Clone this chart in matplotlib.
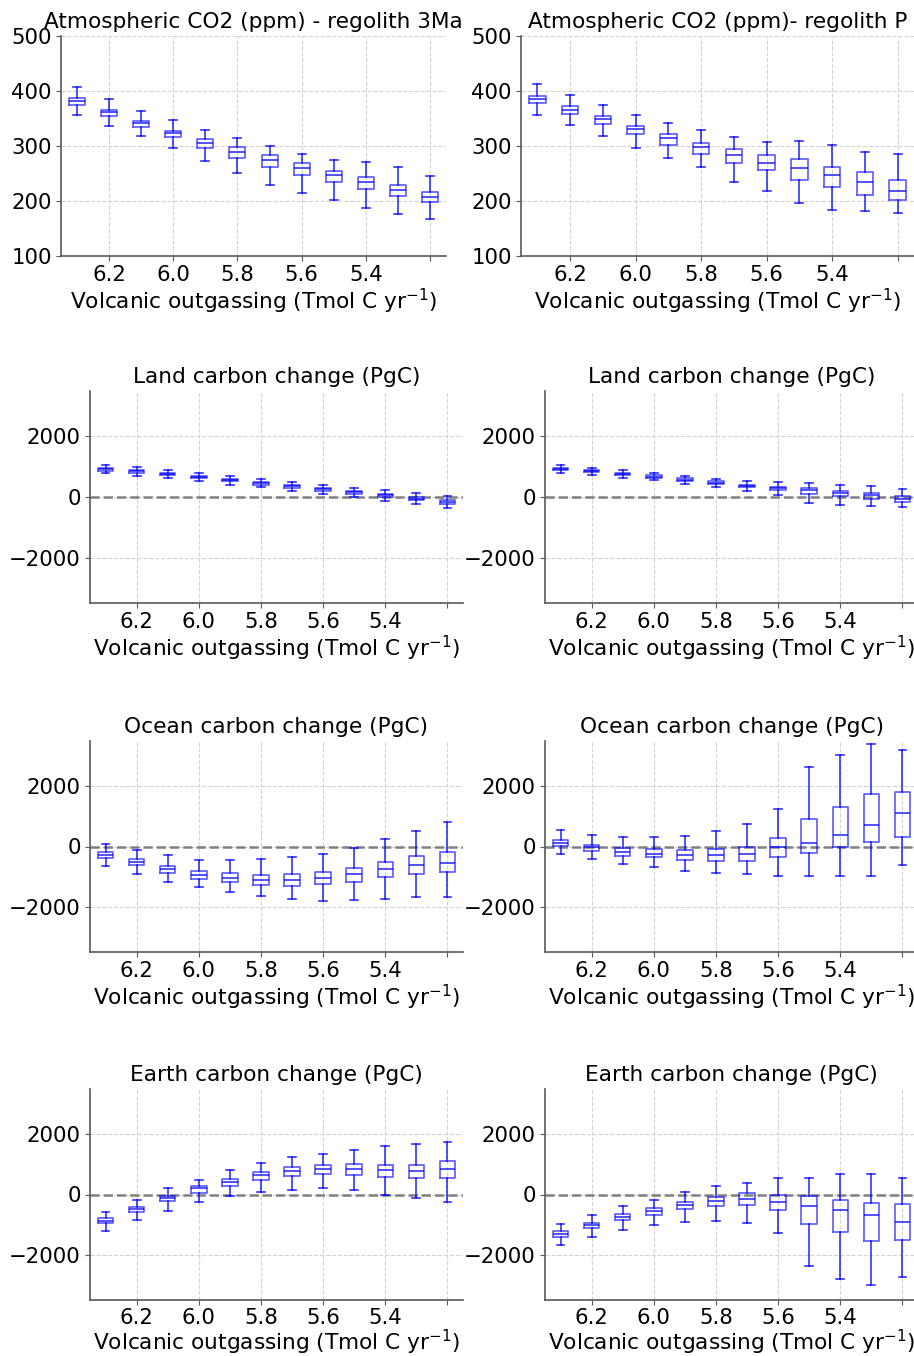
#!/usr/bin/env python3

import matplotlib
matplotlib.use("Agg")
import matplotlib.pyplot as plt

# Outgassing steps (boxes 1..12), only every other one gets a tick label
tick_pos = [2, 4, 6, 8, 10, 12]
tick_labels = ["6.2", "6.0", "5.8", "5.6", "5.4", ""]
xlabel = "Volcanic outgassing (Tmol C yr$^{-1}$)"

# Atmospheric CO2 - regolith 3Ma (ppm)
co2_3ma_hi = [408, 385, 363, 348, 329, 315, 300, 286, 275, 271, 262, 245]
co2_3ma_q3 = [387, 366, 346, 328, 313, 298, 283, 269, 254, 243, 230, 216]
co2_3ma_med = [381, 361, 341, 323, 306, 290, 275, 260, 247, 234, 220, 207]
co2_3ma_q1 = [374, 355, 335, 316, 297, 279, 262, 248, 235, 221, 209, 198]
co2_3ma_lo = [356, 337, 318, 297, 272, 251, 230, 215, 202, 187, 177, 168]

# Atmospheric CO2 - regolith P (ppm)
co2_p_hi = [412, 392, 374, 356, 342, 329, 317, 307, 309, 301, 290, 285]
co2_p_q3 = [391, 372, 354, 337, 321, 306, 294, 283, 276, 262, 253, 238]
co2_p_med = [385, 366, 349, 331, 315, 298, 283, 269, 260, 248, 234, 219]
co2_p_q1 = [378, 358, 340, 321, 301, 285, 270, 257, 239, 225, 211, 202]
co2_p_lo = [356, 339, 319, 297, 279, 262, 234, 218, 196, 184, 182, 179]

# Land carbon change - regolith 3Ma (PgC)
land_3ma_hi = [1069, 981, 882, 782, 683, 584, 496, 386, 298, 231, 121, 33]
land_3ma_q3 = [970, 904, 805, 705, 606, 507, 408, 298, 198, 110, 0, -99]
land_3ma_med = [926, 860, 760, 661, 562, 452, 353, 253, 154, 55, -55, -165]
land_3ma_q1 = [871, 805, 716, 617, 518, 408, 309, 198, 99, 11, -110, -220]
land_3ma_lo = [793, 705, 639, 529, 408, 320, 209, 88, 0, -132, -242, -364]

# Land carbon change - regolith P (PgC)
land_p_hi = [1055, 956, 890, 791, 692, 593, 538, 495, 451, 396, 352, 264]
land_p_q3 = [967, 890, 802, 714, 615, 516, 407, 341, 297, 209, 143, 33]
land_p_med = [923, 857, 769, 670, 571, 473, 374, 286, 231, 143, 77, -66]
land_p_q1 = [879, 813, 736, 626, 527, 429, 341, 220, 99, 22, -77, -176]
land_p_lo = [802, 725, 637, 560, 440, 319, 209, 66, -209, -253, -308, -330]

# Ocean carbon change - regolith 3Ma (PgC)
ocean_3ma_hi = [88, -132, -286, -462, -440, -429, -341, -264, -66, 253, 528, 824]
ocean_3ma_q3 = [-198, -429, -637, -824, -879, -934, -923, -846, -703, -517, -330, -198]
ocean_3ma_med = [-275, -517, -758, -945, -1044, -1121, -1121, -1055, -923, -758, -626, -560]
ocean_3ma_q1 = [-374, -626, -890, -1066, -1187, -1286, -1308, -1242, -1165, -1022, -901, -857]
ocean_3ma_lo = [-637, -912, -1165, -1352, -1517, -1649, -1747, -1802, -1780, -1747, -1681, -1659]

# Ocean carbon change - regolith P (PgC)
ocean_p_hi = [549, 396, 319, 319, 363, 528, 736, 1242, 2638, 3033, 3407, 3198]
ocean_p_q3 = [231, 55, -66, -99, -132, -99, 0, 286, 912, 1319, 1747, 1813]
ocean_p_med = [132, -33, -187, -242, -297, -286, -264, -11, 132, 396, 703, 1099]
ocean_p_q1 = [33, -154, -319, -363, -451, -495, -495, -352, -231, 0, 165, 319]
ocean_p_lo = [-264, -418, -571, -670, -824, -868, -923, -989, -989, -989, -989, -626]

# Earth carbon change - regolith 3Ma (PgC)
earth_3ma_hi = [-571, -176, 220, 495, 824, 1044, 1231, 1352, 1473, 1594, 1660, 1747]
earth_3ma_q3 = [-791, -418, -44, 275, 527, 747, 901, 967, 1011, 989, 989, 1099]
earth_3ma_med = [-868, -495, -121, 209, 418, 648, 769, 846, 857, 813, 791, 857]
earth_3ma_q1 = [-956, -593, -231, 66, 297, 495, 604, 670, 659, 593, 560, 560]
earth_3ma_lo = [-1209, -857, -538, -242, -66, 99, 165, 231, 143, -22, -121, -264]

# Earth carbon change - regolith P (PgC)
earth_p_hi = [-989, -670, -396, -176, 99, 286, 396, 539, 560, 670, 692, 549]
earth_p_q3 = [-1220, -934, -648, -462, -253, -77, 44, 0, -55, -176, -275, -308]
earth_p_med = [-1297, -1022, -736, -539, -352, -231, -143, -253, -374, -506, -681, -901]
earth_p_q1 = [-1407, -1110, -857, -681, -495, -396, -352, -517, -978, -1242, -1550, -1517]
earth_p_lo = [-1681, -1396, -1187, -1011, -901, -879, -945, -1286, -2385, -2791, -3000, -2736]

W, H = 914, 1356


# Turn the five summary lists into stats dicts for ax.bxp
def box_stats(lo, q1, med, q3, hi):
    stats = []
    for i in range(len(med)):
        stats.append({"whislo": lo[i], "q1": q1[i], "med": med[i],
                      "q3": q3[i], "whishi": hi[i]})
    return stats


# Axes box from pixel edges of the reference
def px_axes(fig, left, top, right, bottom):
    return fig.add_axes([left / W, 1 - bottom / H, (right - left) / W, (bottom - top) / H])


def draw_panel(ax, stats, title, ylim, yticks, zero_line, labelpad=1, tickpad=3):
    ax.bxp(stats, showfliers=False,
           boxprops=dict(color="blue", alpha=0.65, lw=1.2),
           whiskerprops=dict(color="blue", alpha=0.8, lw=1.2),
           capprops=dict(color="blue", alpha=0.8, lw=1.2),
           medianprops=dict(color="blue", alpha=0.8, lw=1.2))
    if zero_line:
        # above the grid, below the boxes
        ax.axhline(0, color="gray", ls="--", lw=1.8, zorder=1.5)
    ax.set_xlim(0.5, 12.5)
    ax.set_ylim(*ylim)
    ax.set_yticks(yticks)
    ax.set_xticks(tick_pos)
    ax.set_xticklabels(tick_labels)
    ax.grid(True, ls="--", color="lightgray", lw=0.8)
    ax.set_axisbelow(True)
    ax.spines["top"].set_visible(False)
    ax.spines["right"].set_visible(False)
    for s in ("left", "bottom"):
        ax.spines[s].set_color("0.35")
        ax.spines[s].set_linewidth(1.2)
    ax.tick_params(labelsize=15.3, color="0.35", pad=3)
    ax.tick_params(axis="x", pad=tickpad)
    ax.set_title(title, fontsize=15.6)
    ax.set_xlabel(xlabel, fontsize=15.6, labelpad=labelpad)


def main():
    fig = plt.figure(figsize=(W / 100, H / 100), dpi=100)

    co2_ticks = [100, 200, 300, 400, 500]
    pg_ticks = [-2000, 0, 2000]
    pg_lim = (-3500, 3500)

    ax = px_axes(fig, 61, 36, 446, 256)
    draw_panel(ax, box_stats(co2_3ma_lo, co2_3ma_q1, co2_3ma_med, co2_3ma_q3, co2_3ma_hi),
               "Atmospheric CO2 (ppm) - regolith 3Ma", (100, 500), co2_ticks, False)
    ax = px_axes(fig, 521, 36, 914, 256)
    draw_panel(ax, box_stats(co2_p_lo, co2_p_q1, co2_p_med, co2_p_q3, co2_p_hi),
               "Atmospheric CO2 (ppm)- regolith P", (100, 500), co2_ticks, False)

    # remaining rows: (top, bottom, title, left data, right data)
    rows = [
        (391, 603, "Land carbon change (PgC)",
         (land_3ma_lo, land_3ma_q1, land_3ma_med, land_3ma_q3, land_3ma_hi),
         (land_p_lo, land_p_q1, land_p_med, land_p_q3, land_p_hi)),
        (741, 952, "Ocean carbon change (PgC)",
         (ocean_3ma_lo, ocean_3ma_q1, ocean_3ma_med, ocean_3ma_q3, ocean_3ma_hi),
         (ocean_p_lo, ocean_p_q1, ocean_p_med, ocean_p_q3, ocean_p_hi)),
        (1089, 1300, "Earth carbon change (PgC)",
         (earth_3ma_lo, earth_3ma_q1, earth_3ma_med, earth_3ma_q3, earth_3ma_hi),
         (earth_p_lo, earth_p_q1, earth_p_med, earth_p_q3, earth_p_hi)),
    ]
    for top, bottom, title, left_data, right_data in rows:
        # bottom row label sits right at the figure edge, keep it tight
        if bottom > 1200:
            pads = (0, 2)
        else:
            pads = (1, 3)
        ax = px_axes(fig, 90, top, 463, bottom)
        draw_panel(ax, box_stats(*left_data), title, pg_lim, pg_ticks, True, *pads)
        ax = px_axes(fig, 545, top, 918, bottom)
        draw_panel(ax, box_stats(*right_data), title, pg_lim, pg_ticks, True, *pads)

    fig.savefig("out.png", dpi=100)


if __name__ == "__main__":
    main()
